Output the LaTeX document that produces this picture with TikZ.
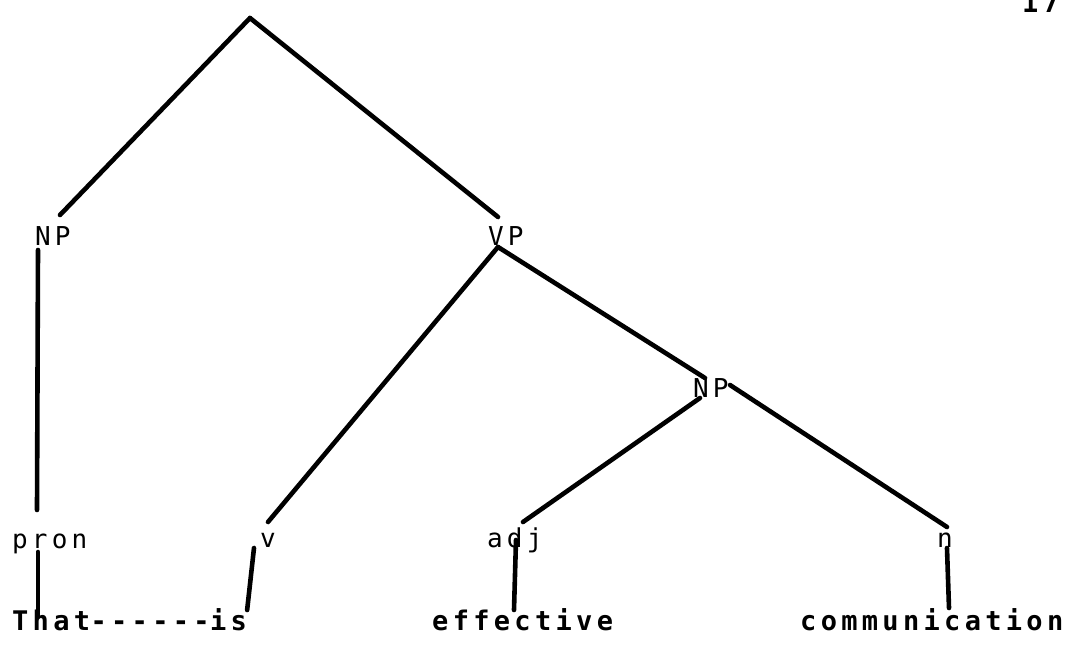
\documentclass[tikz,border=0pt]{standalone}
\usepackage{fontspec}
\newfontfamily\treefont[LetterSpace=16]{DejaVu Sans Mono}
\usepackage{tikz}
\usetikzlibrary{positioning}

\begin{document}
\begin{tikzpicture}[
  x=1pt, y=-1pt,
  cat/.style={inner sep=0pt, anchor=base west, font=\treefont\fontsize{26}{30}\selectfont},
  word/.style={inner sep=0pt, anchor=base west, font=\treefont\bfseries\fontsize{27}{32}\selectfont},
  branch/.style={line width=4.6pt, line cap=round}
]
  \useasboundingbox (0,0) rectangle (1069,656);

  % page number, cut at the top edge
  \node[word] (pg) at (1022,12) {17};

  % categories
  \coordinate (top) at (250,18);
  \node[cat] (np1) at (35,245) {NP};
  \node[cat] (vp) at (488,245) {VP};
  \node[cat] (np2) at (693,397) {NP};
  \node[cat] (pron) at (12,548) {pron};
  \node[cat] (v) at (260,547) {v};
  \node[cat] (adj) at (487,547) {adj};
  \node[cat] (n) at (937,547) {n};

  % words
  \node[word] (that) at (12,630) {That};
  \node[word, right=0pt of that.base east, anchor=base west] (link) {------};
  \node[word, right=0pt of link.base east, anchor=base west] (is) {is};
  \node[word] (eff) at (432,630) {effective};
  \node[word] (comm) at (800,630) {communication};

  % branches
  \draw[branch] (top) -- ([shift={(25,-30)}]np1.base west);
  \draw[branch] (top) -- ([shift={(10,-28)}]vp.base west);
  \draw[branch] ([shift={(3,5)}]np1.base west) -- ([shift={(25,-38)}]pron.base west);
  \draw[branch] ([shift={(10,2)}]vp.base west) -- ([shift={(8,-25)}]v.base west);
  \draw[branch] ([shift={(10,2)}]vp.base west) -- ([shift={(12,-19)}]np2.base west);
  \draw[branch] ([shift={(7,1)}]np2.base west) -- ([shift={(36,-25)}]adj.base west);
  \draw[branch] ([shift={(37,-12)}]np2.base west) -- ([shift={(10,-20)}]n.base west);

  % lexical links
  \draw[branch] ([shift={(26,4)}]pron.base west) -- ([shift={(26,-13)}]that.base west);
  \draw[branch] ([shift={(-6,1)}]v.base west) -- ([shift={(0,-20)}]is.base east);
  \draw[branch] ([shift={(29,-7)}]adj.base west) -- ([shift={(82,-20)}]eff.base west);
  \draw[branch] ([shift={(10,1)}]n.base west) -- ([shift={(149,-22)}]comm.base west);
\end{tikzpicture}
\end{document}
